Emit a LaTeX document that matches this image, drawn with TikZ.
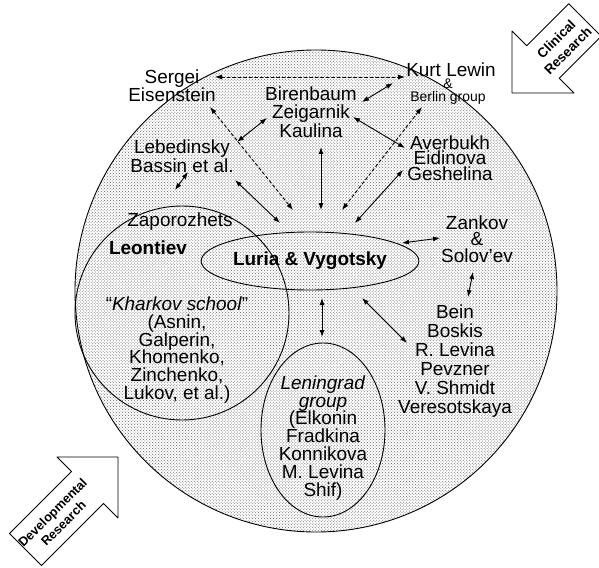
\documentclass[tikz,border=0pt]{standalone}
\usepackage{fontspec}
\setmainfont{Liberation Sans}
\usetikzlibrary{arrows.meta,patterns,shapes.geometric}

\begin{document}
\begin{tikzpicture}[x=1bp,y=-1bp,line cap=round,line join=round,
	names/.style={align=center,inner sep=0pt,font=\fontsize{19}{18.5}\selectfont},
	hub/.style={ellipse,draw,line width=0.9bp,minimum width=194bp,minimum height=58bp,inner sep=0pt,font=\fontsize{19}{19}\selectfont\bfseries},
	link/.style={{Latex[length=7bp,width=5bp]}-{Latex[length=7bp,width=5bp]},line width=0.9bp},
	hint/.style={link,dash pattern=on 3bp off 2.5bp},
	bigarrow/.style={draw,line width=0.9bp,fill=white},
	tag/.style={align=center,rotate=45,inner sep=0pt}]
	\useasboundingbox (0,0) rectangle (599,568);
	\clip (0,0) rectangle (599,568);
	% field
	\draw [line width=0.9bp,pattern=crosshatch dots,pattern color=black!60] (316,291) circle (241);
	\node [circle,draw,line width=0.9bp,minimum size=214bp,inner sep=0pt] (kharkov) at (182,313) {};
	\node [ellipse,draw,line width=0.9bp,minimum width=124bp,minimum height=174bp,inner sep=0pt] (lenin) at (323,430) {};
	% research arrows
	\draw [bigarrow] (512,93) -- (512,31) -- (526.7,45.7) -- (568.7,3.7) -- (601.3,36.3) -- (559.3,78.3) -- (574,93) -- cycle;
	\node [tag,font=\fontsize{13.5}{16.5}\selectfont\bfseries] (clinical) at (562,45) {Clinical\\Research};
	\draw [bigarrow] (118,457) -- (57,457) -- (71.5,471.5) -- (9.5,533.5) -- (41.5,565.5) -- (103.5,503.5) -- (118,518) -- cycle;
	\node [tag,font=\fontsize{12.8}{15.5}\selectfont\bfseries] (devel) at (58,518) {Developmental\\Research};
	% names
	\node [hub] (luria) at (310,261) {Luria \& Vygotsky};
	\node [names] (eis) at (172,86) {Sergei\\Eisenstein};
	\node [names] (biren) at (311,112) {Birenbaum\\Zeigarnik\\Kaulina};
	\node [names] (kurt) at (451,70) {Kurt Lewin};
	\node [names,font=\fontsize{14}{13}\selectfont] (berlin) at (448,92) {\&\\Berlin group};
	\node [names,font=\fontsize{19}{16}\selectfont] (lebed) at (182,156) {Lebedinsky\\Bassin et al.};
	\node [names,font=\fontsize{19}{15.5}\selectfont] (averb) at (450,158) {Averbukh\\Eidinova\\Geshelina};
	\node [names] (zapor) at (180,222) {Zaporozhets};
	\node [names,font=\fontsize{19}{19}\selectfont\bfseries] (leont) at (148,248) {Leontiev};
	\node [names,font=\fontsize{19}{16.5}\selectfont] (zankov) at (477,239) {Zankov\\\&\\Solov’ev};
	\node [names,font=\fontsize{19}{19}\selectfont] (bein) at (455,361) {Bein\\Boskis\\R. Levina\\Pevzner\\V. Shmidt\\Veresotskaya};
	\node [names,font=\fontsize{19}{17.8}\selectfont] (kharkovlist) at (177,350) {“\textit{Kharkov school}”\\(Asnin,\\Galperin,\\Khomenko,\\Zinchenko,\\Lukov, et al.)};
	\node [names,font=\fontsize{19}{18}\selectfont] (leninlist) at (323,438) {\textit{Leningrad}\\\textit{group}\\(Elkonin\\Fradkina\\Konnikova\\M. Levina\\Shif)};
	% ports
	\coordinate (eis-e) at (215,77);
	\coordinate (eis-se) at (210,107);
	\coordinate (kurt-w) at (405,77);
	\coordinate (kurt-sw) at (393,83);
	\coordinate (berlin-s) at (422,107);
	\coordinate (lebed-ne) at (237,142);
	\coordinate (lebed-sw) at (188,172);
	\coordinate (lebed-se) at (235,180);
	\coordinate (biren-w) at (267,118);
	\coordinate (biren-s) at (321,147);
	\coordinate (biren-ne) at (362,102);
	\coordinate (biren-e) at (353,117);
	\coordinate (averb-w) at (405,148);
	\coordinate (averb-sw) at (403,170);
	\coordinate (zapor-n) at (175,190);
	\coordinate (zankov-w) at (440,238);
	\coordinate (zankov-s) at (473,272);
	\coordinate (bein-n) at (468,297);
	\coordinate (bein-nw) at (407,343);
	\coordinate (lenin-n) at (322,337);
	\coordinate (lv-eis) at (293,210);
	\coordinate (lv-lebed) at (280,223);
	\coordinate (lv-biren) at (321,210);
	\coordinate (lv-berlin) at (342,210);
	\coordinate (lv-averb) at (355,223);
	\coordinate (lv-zankov) at (402,243);
	\coordinate (lv-bein) at (362,298);
	\coordinate (lv-lenin) at (322,298);
	% links
	\draw [hint] (eis-e) -- (kurt-w);
	\draw [hint] (eis-se) -- (lv-eis);
	\draw [hint] (berlin-s) -- (lv-berlin);
	\draw [link] (lebed-ne) -- (biren-w);
	\draw [link] (lebed-sw) -- (zapor-n);
	\draw [link] (lebed-se) -- (lv-lebed);
	\draw [link] (biren-s) -- (lv-biren);
	\draw [link] (biren-ne) -- (kurt-sw);
	\draw [link] (biren-e) -- (averb-w);
	\draw [link] (averb-sw) -- (lv-averb);
	\draw [link] (lv-zankov) -- (zankov-w);
	\draw [link] (zankov-s) -- (bein-n);
	\draw [link] (lv-bein) -- (bein-nw);
	\draw [link] (lv-lenin) -- (lenin-n);
\end{tikzpicture}
\end{document}
